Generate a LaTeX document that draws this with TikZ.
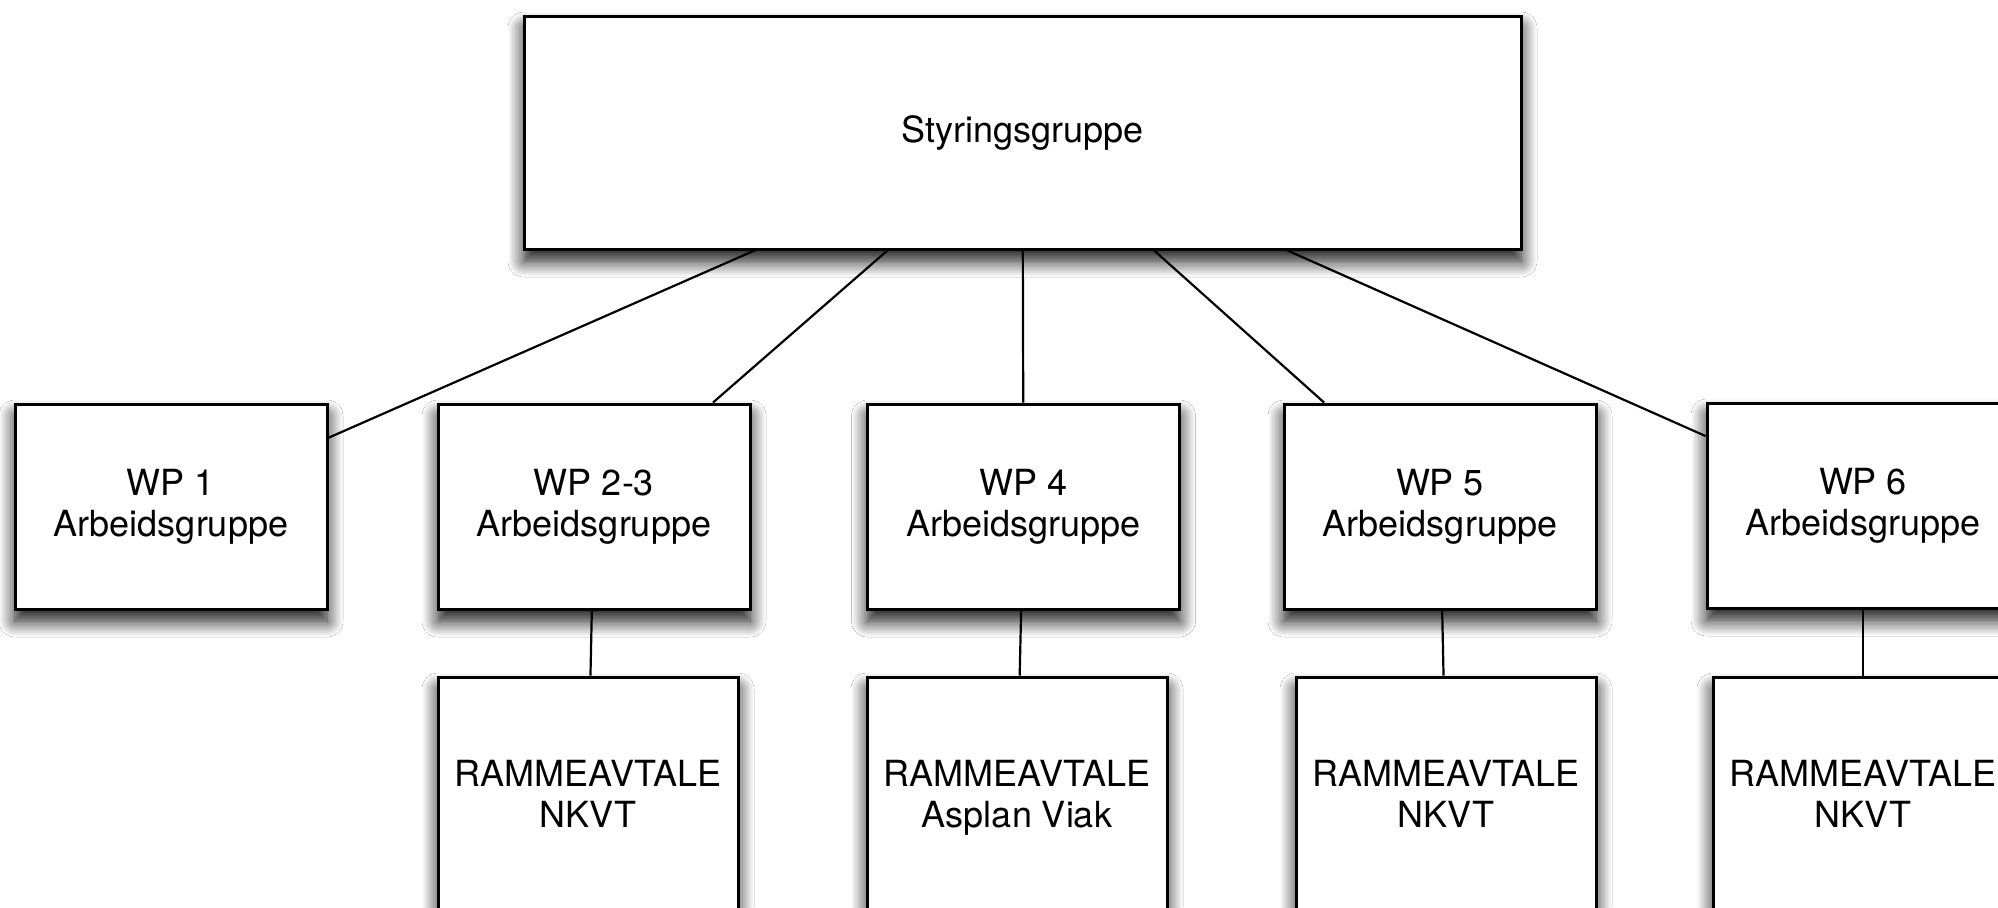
\documentclass[tikz,border=0pt]{standalone}
\usepackage{fontspec}
\setmainfont{TeX Gyre Heros}
\usetikzlibrary{shadows.blur}
\begin{document}
\begin{tikzpicture}[x=0.5pt,y=-0.5pt,
  box/.style={draw=black, line width=1.5pt, fill=white, inner sep=0pt, align=center,
    font=\fontsize{18}{20.5}\selectfont,
    blur shadow={shadow xshift=0pt, shadow yshift=-6pt, shadow blur radius=8pt, shadow blur steps=12, shadow opacity=95}},
  wpbox/.style={box, minimum width=156pt, minimum height=102.5pt},
  rabox/.style={box, minimum width=150pt, minimum height=117pt, text depth=0pt},
  link/.style={draw=black, line width=1.1pt}]
\useasboundingbox (0,0) rectangle (1998,907);
\clip (0,0) rectangle (1998,907);
\fill[white] (0,0) rectangle (1998,907);
\node[box, minimum width=498.5pt, minimum height=116.5pt] (top) at (1022.5,132.5) {Styringsgruppe};
\node[wpbox] (wp1) at (171,506.5) {WP 1\\Arbeidsgruppe};
\node[wpbox] (wp23) at (594,506.5) {WP 2-3\\Arbeidsgruppe};
\node[wpbox] (wp4) at (1023.5,506.5) {WP 4\\Arbeidsgruppe};
\node[wpbox] (wp5) at (1440,506.5) {WP 5\\Arbeidsgruppe};
\node[wpbox] (wp6) at (1863,505.5) {WP 6\\Arbeidsgruppe};
\node[rabox] (ra1) at (588,794) {RAMMEAVTALE\\NKVT};
\node[rabox] (ra2) at (1017,794) {RAMMEAVTALE\\Asplan Viak};
\node[rabox] (ra3) at (1446,794) {RAMMEAVTALE\\NKVT};
\node[rabox] (ra4) at (1863,794) {RAMMEAVTALE\\NKVT};
\draw[link] (top) -- (wp1);
\draw[link] (top) -- (wp23);
\draw[link] (top) -- (wp4);
\draw[link] (top) -- (wp5);
\draw[link] (top) -- (wp6);
\draw[link] (wp23) -- (ra1);
\draw[link] (wp4) -- (ra2);
\draw[link] (wp5) -- (ra3);
\draw[link] (wp6) -- (ra4);
\end{tikzpicture}
\end{document}
